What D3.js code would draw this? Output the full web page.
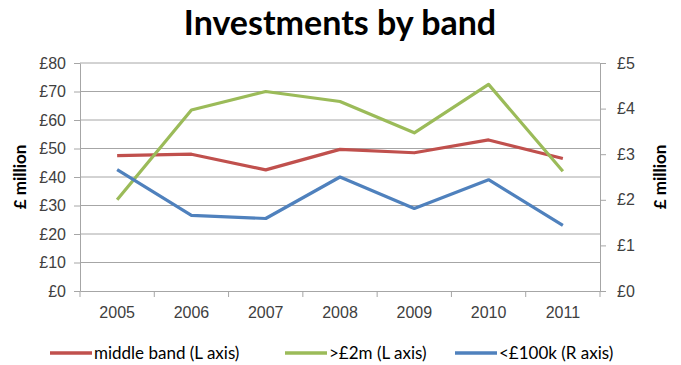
<!DOCTYPE html>
<html lang="en">
<head>
<meta charset="UTF-8">
<title>Investments by band</title>
<script src="https://d3js.org/d3.v7.min.js"></script>
<style>
  body { margin: 0; background: #fff; }
  svg { font-family: Lato, "Open Sans", sans-serif; }
  .tick text { font-size: 16px; fill: #404040; }
  .axis path, .axis line { stroke: #a6a6a6; }
</style>
</head>
<body>
<svg id="chart" width="681" height="365"></svg>
<script>
const years = ["2005", "2006", "2007", "2008", "2009", "2010", "2011"];
const middleBand = [47.5, 48, 42.5, 49.7, 48.5, 53, 46.5];
const over2m = [32, 63.5, 70, 66.5, 55.5, 72.5, 42];
const under100k = [2.66, 1.66, 1.59, 2.5, 1.81, 2.44, 1.44];
const leftTicks = [0, 10, 20, 30, 40, 50, 60, 70, 80];
const rightTicks = [0, 1, 2, 3, 4, 5];

const svg = d3.select("#chart");
const plotL = 80, plotR = 600, plotT = 63, plotB = 291;

const x = d3.scaleBand().domain(years).range([plotL, plotR]);
const yL = d3.scaleLinear().domain([0, 80]).range([plotB, plotT]);
const yR = d3.scaleLinear().domain([0, 5]).range([plotB, plotT]);

// title
svg.append("text")
    .attr("x", 340).attr("y", 35)
    .attr("text-anchor", "middle")
    .attr("font-size", 34).attr("font-weight", "bold")
    .attr("fill", "#000")
    .text("Investments by band");

// gridlines
svg.append("g")
    .selectAll("line")
    .data(leftTicks.slice(1))
    .join("line")
    .attr("x1", plotL).attr("x2", plotR)
    .attr("y1", d => yL(d)).attr("y2", d => yL(d))
    .attr("stroke", "#a6a6a6").attr("stroke-width", 1);

// left axis
svg.append("g").attr("class", "axis")
    .attr("transform", `translate(${plotL},0)`)
    .call(d3.axisLeft(yL).tickValues(leftTicks).tickSize(6).tickSizeOuter(0).tickPadding(8).tickFormat(d => "£" + d));

// right axis
svg.append("g").attr("class", "axis")
    .attr("transform", `translate(${plotR},0)`)
    .call(d3.axisRight(yR).tickValues(rightTicks).tickSize(6).tickSizeOuter(0).tickPadding(11).tickFormat(d => "£" + d));

// x axis
const axX = svg.append("g").attr("class", "axis")
    .attr("transform", `translate(0,${plotB})`)
    .call(d3.axisBottom(x).tickSize(0).tickPadding(16));
axX.append("g").selectAll("line")
    .data(years.concat(["end"]))
    .join("line")
    .attr("x1", (d, i) => plotL + i * x.step())
    .attr("x2", (d, i) => plotL + i * x.step())
    .attr("y1", 0).attr("y2", 6)
    .attr("stroke", "#a6a6a6");

// axis titles
svg.append("text")
    .attr("transform", `translate(26,${(plotT + plotB) / 2}) rotate(-90)`)
    .attr("text-anchor", "middle")
    .attr("font-size", 17).attr("font-weight", "bold")
    .text("£ million");
svg.append("text")
    .attr("transform", `translate(666,${(plotT + plotB) / 2}) rotate(-90)`)
    .attr("text-anchor", "middle")
    .attr("font-size", 17).attr("font-weight", "bold")
    .text("£ million");

// lines
const cx = d => x(d) + x.bandwidth() / 2;
const series = [
    { values: middleBand, scale: yL, color: "#c0504d" },
    { values: over2m, scale: yL, color: "#9bbb59" },
    { values: under100k, scale: yR, color: "#4f81bd" }
];
series.forEach(s => {
    const line = d3.line()
        .x((d, i) => cx(years[i]))
        .y(d => s.scale(d));
    svg.append("path")
        .datum(s.values)
        .attr("d", line)
        .attr("fill", "none")
        .attr("stroke", s.color)
        .attr("stroke-width", 3.2)
        .attr("stroke-linejoin", "round");
});

// legend
const legend = [
    { label: "middle band (L axis)", color: "#c0504d", x: 50 },
    { label: ">£2m (L axis)", color: "#9bbb59", x: 285 },
    { label: "<£100k (R axis)", color: "#4f81bd", x: 455 }
];
const lg = svg.append("g");
legend.forEach(l => {
    lg.append("line")
        .attr("x1", l.x).attr("x2", l.x + 42)
        .attr("y1", 353).attr("y2", 353)
        .attr("stroke", l.color).attr("stroke-width", 3.5);
    lg.append("text")
        .attr("x", l.x + 44).attr("y", 359)
        .attr("font-size", 17).attr("fill", "#000")
        .text(l.label);
});
</script>
</body>
</html>
